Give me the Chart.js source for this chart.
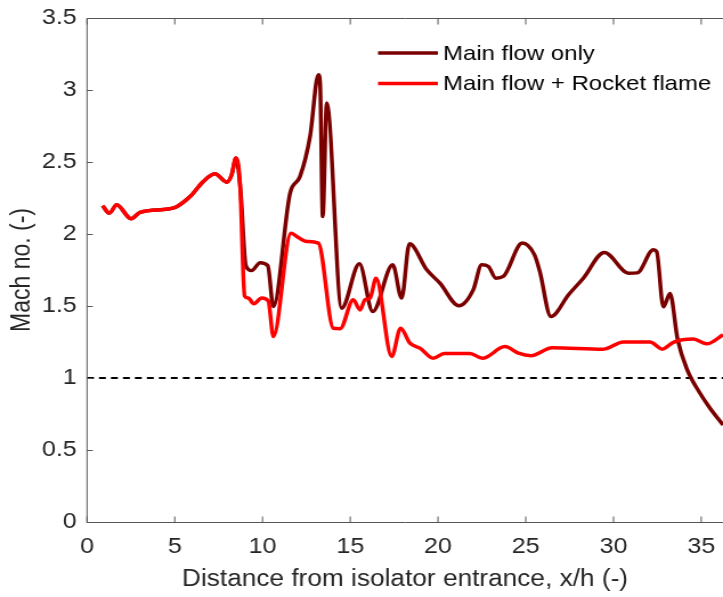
<!DOCTYPE html>
<html>
<head>
<meta charset="utf-8">
<script src="https://cdn.jsdelivr.net/npm/chart.js@4/dist/chart.umd.min.js"></script>
<style>
html,body{margin:0;padding:0;background:#fff;overflow:hidden;width:723px;height:597px;}
#wrap{width:634px;height:597px;transform:scaleX(1.14038);transform-origin:0 0;}
canvas{display:block;}
</style>
</head>
<body>
<div id="wrap"><canvas id="c" width="634" height="597"></canvas></div>
<script>
// ---- data ----
const seriesNames = ["Main flow only", "Main flow + Rocket flame"];
const mainX = [0.89,1.27,1.69,2.51,3.02,4.63,5.11,5.87,6.63,7.29,7.96,8.24,8.49,8.75,9.05,9.38,9.86,10.3,10.62,11.57,12.14,12.71,13.18,13.28,13.43,13.66,14.51,15.52,16.28,17.42,17.93,18.37,19.36,20.11,21.19,22.0,22.49,22.87,23.3,23.72,24.8,25.5,25.8,26.43,27.45,28.28,29.48,30.85,31.35,32.27,32.46,32.84,33.22,33.65,34.17,34.93,35.5,36.24];
const mainY = [2.196,2.145,2.203,2.106,2.15,2.173,2.19,2.26,2.365,2.418,2.36,2.41,2.527,2.3,1.78,1.746,1.80,1.78,1.496,2.284,2.40,2.678,3.106,3.05,2.122,2.91,1.485,1.793,1.462,1.786,1.555,1.932,1.751,1.659,1.501,1.61,1.786,1.774,1.693,1.705,1.937,1.855,1.74,1.427,1.58,1.693,1.872,1.728,1.73,1.89,1.878,1.494,1.587,1.27,1.065,0.894,0.79,0.674];
const rocketX = [0.89,1.27,1.69,2.51,3.02,4.63,5.11,5.87,6.63,7.29,7.96,8.24,8.49,8.72,8.98,9.19,9.5,9.95,10.33,10.62,11.62,11.95,12.52,13.18,14.04,14.42,15.17,15.56,15.84,16.13,16.47,17.36,17.87,18.4,18.97,19.73,20.35,21.82,22.53,23.82,24.58,25.3,26.5,29.42,30.56,32.08,32.78,33.41,34.55,35.32,36.24];
const rocketY = [2.196,2.145,2.203,2.106,2.15,2.173,2.19,2.26,2.365,2.418,2.36,2.41,2.527,2.35,1.57,1.555,1.515,1.555,1.535,1.288,2.006,1.983,1.948,1.937,1.345,1.342,1.543,1.473,1.543,1.555,1.693,1.149,1.346,1.242,1.207,1.137,1.17,1.17,1.137,1.218,1.172,1.155,1.21,1.2,1.25,1.25,1.2,1.248,1.27,1.237,1.30];
const refLineY = 1;
const xTickValues = [0, 5, 10, 15, 20, 25, 30, 35];
const yTickValues = [0, 0.5, 1, 1.5, 2, 2.5, 3, 3.5];
const xMin = 0, xMax = 36.24;
const yMin = 0, yMax = 3.5;
const xTitle = "Distance from isolator entrance, x/h (-)";
const yTitle = "Mach no. (-)";

const pts = (xs, ys) => xs.map((x, i) => ({x: x, y: ys[i]}));

const FONT = "'Liberation Sans', Arial, sans-serif";
const AXIS_COLOR = '#555';
const TEXT_COLOR = '#262626';

const boxPlugin = {
  id: 'box',
  afterDraw(chart) {
    const ctx = chart.ctx, a = chart.chartArea;
    const xs = chart.scales.x, ys = chart.scales.y;
    ctx.save();
    ctx.strokeStyle = AXIS_COLOR;
    ctx.lineWidth = 1;
    ctx.beginPath();
    const L = a.left, T = Math.round(a.top) + 0.5, B = Math.round(a.bottom) + 0.5;
    ctx.moveTo(a.right + 2, T); ctx.lineTo(L, T); ctx.lineTo(L, B); ctx.lineTo(a.right + 2, B);
    xs.ticks.forEach(t => {
      const px = xs.getPixelForValue(t.value);
      ctx.moveTo(px, B); ctx.lineTo(px, B - 6);
      ctx.moveTo(px, T); ctx.lineTo(px, T + 6);
    });
    ys.ticks.forEach(t => {
      const py = Math.round(ys.getPixelForValue(t.value)) + 0.5;
      ctx.moveTo(L, py); ctx.lineTo(L + 5, py);
    });
    ctx.stroke();
    // legend
    const items = [chart.data.datasets[1], chart.data.datasets[0]];
    const lx0 = 331.5, lx1 = 384, tx = 388.5, y0 = 53, dy = 30.5;
    ctx.font = "21px " + FONT;
    ctx.textBaseline = 'middle';
    ctx.textAlign = 'left';
    items.forEach((d, i) => {
      const y = y0 + i * dy;
      ctx.strokeStyle = d.borderColor;
      ctx.lineWidth = 3.5;
      ctx.beginPath(); ctx.moveTo(lx0, y); ctx.lineTo(lx1, y); ctx.stroke();
      ctx.fillStyle = '#000';
      ctx.fillText(d.label, tx, y + 1);
    });
    ctx.restore();
  }
};

new Chart(document.getElementById('c'), {
  type: 'line',
  data: {
    datasets: [
      {label: seriesNames[1], data: pts(rocketX, rocketY), borderColor: '#ff0000', borderWidth: 3.5, pointRadius: 0, cubicInterpolationMode: 'monotone', order: 0},
      {label: seriesNames[0], data: pts(mainX, mainY), borderColor: '#7a0000', borderWidth: 3.5, pointRadius: 0, cubicInterpolationMode: 'monotone', order: 1},
      {label: 'M=1', data: [{x: xMin, y: refLineY}, {x: xMax, y: refLineY}], borderColor: '#000', borderWidth: 1.8, borderDash: [6, 4.5], pointRadius: 0, order: 2}
    ]
  },
  options: {
    responsive: false,
    animation: false,
    events: [],
    layout: {padding: {top: 18, right: 0, left: 0, bottom: 0}},
    plugins: {legend: {display: false}, tooltip: {enabled: false}},
    scales: {
      x: {
        type: 'linear', min: xMin, max: xMax,
        grid: {display: false, drawTicks: false},
        border: {display: false},
        ticks: {color: TEXT_COLOR, font: {family: FONT, size: 22}, padding: 12, maxRotation: 0, autoSkip: false},
        afterBuildTicks(s) { s.ticks = xTickValues.map(v => ({value: v})); },
        afterFit(s) { s.height = 75; s.paddingLeft = 0; s.paddingRight = 0; },
        title: {display: true, text: xTitle, color: TEXT_COLOR, font: {family: FONT, size: 23}, padding: {top: 0, bottom: 4}}
      },
      y: {
        type: 'linear', min: yMin, max: yMax,
        grid: {display: false, drawTicks: false},
        border: {display: false},
        ticks: {color: TEXT_COLOR, font: {family: FONT, size: 22}, padding: 9, autoSkip: false, callback: v => String(v)},
        afterBuildTicks(s) { s.ticks = yTickValues.map(v => ({value: v})); },
        afterFit(s) { s.width = 76.3; s.paddingTop = 0; s.paddingBottom = 0; },
        title: {display: true, text: yTitle, color: TEXT_COLOR, font: {family: FONT, size: 23}, padding: {top: 6, bottom: 0}}
      }
    }
  },
  plugins: [boxPlugin]
});
</script>
</body>
</html>
